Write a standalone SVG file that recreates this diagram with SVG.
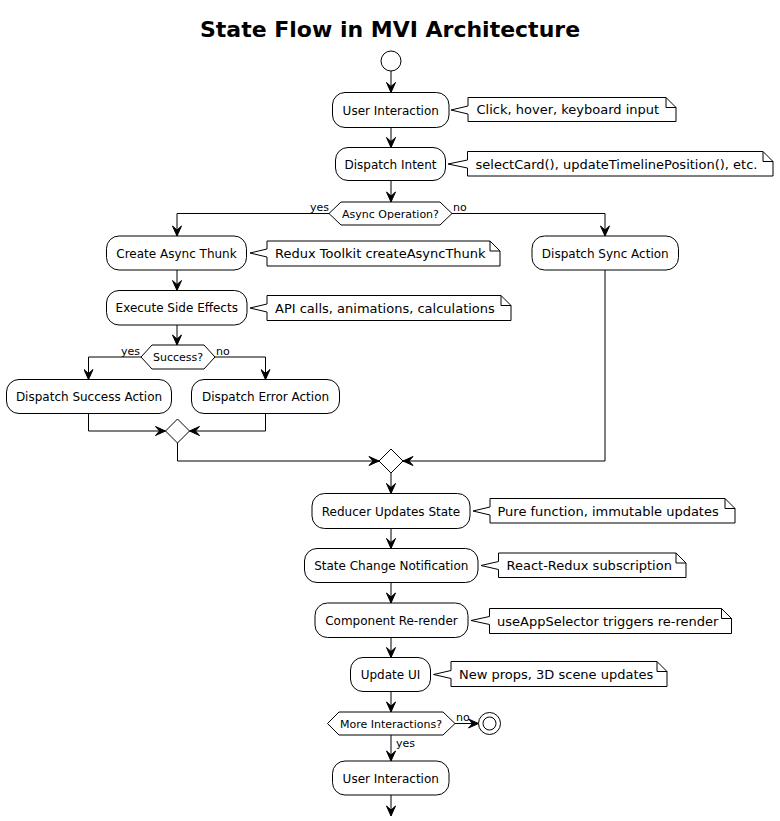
<svg xmlns="http://www.w3.org/2000/svg" width="780" height="821" viewBox="0 0 780 821">
<defs>
<marker id="arr" viewBox="-11 -5 12 10" refX="0" refY="0" markerWidth="12" markerHeight="10" markerUnits="userSpaceOnUse" orient="auto">
<path d="M0,0 L-10,-4.5 L-6,0 L-10,4.5 Z" fill="#000" stroke="#000" stroke-width="1"/>
</marker>
<style>
.bg{fill:#fff}
.act{fill:#fff;stroke:#000;stroke-width:1}
.note{fill:#fff;stroke:#000;stroke-width:1}
.ln{fill:none;stroke:#000;stroke-width:1}
.arrow{fill:none;stroke:#000;stroke-width:1;marker-end:url(#arr)}
.t{font-family:"DejaVu Sans",Verdana,sans-serif;font-size:12px;fill:#000;text-anchor:middle}
.nt{font-family:"DejaVu Sans",Verdana,sans-serif;font-size:13px;fill:#000;text-anchor:start}
.dt{font-family:"DejaVu Sans",Verdana,sans-serif;font-size:11px;fill:#000;text-anchor:middle}
.lb{font-family:"DejaVu Sans",Verdana,sans-serif;font-size:11px;fill:#000}
.title{font-family:"DejaVu Sans",Verdana,sans-serif;font-size:22px;font-weight:bold;fill:#000;text-anchor:middle}
</style>
</defs>
<rect class="bg" x="0" y="0" width="780" height="821"/>
<text class="title" x="390" y="37">State Flow in MVI Architecture</text>

<g id="connectors">
<line class="arrow" x1="391" y1="71" x2="391" y2="92.5"/>
<line class="arrow" x1="391" y1="127.5" x2="391" y2="147.5"/>
<line class="arrow" x1="391" y1="180.5" x2="391" y2="202"/>
<polyline class="arrow" points="329,213.5 177,213.5 177,236"/>
<polyline class="arrow" points="452,213.5 605,213.5 605,236"/>
<line class="arrow" x1="177" y1="270" x2="177" y2="290.5"/>
<line class="arrow" x1="177" y1="325" x2="177" y2="345"/>
<polyline class="arrow" points="141,357 88.5,357 88.5,379.5"/>
<polyline class="arrow" points="215,357 265.5,357 265.5,379.5"/>
<polyline class="arrow" points="88.5,413.5 88.5,431 165.5,431"/>
<polyline class="arrow" points="265.5,413.5 265.5,431 189.5,431"/>
<polyline class="arrow" points="177.5,443 177.5,461 379,461"/>
<polyline class="arrow" points="605,270 605,461 403,461"/>
<line class="arrow" x1="391" y1="473" x2="391" y2="493.5"/>
<line class="arrow" x1="391" y1="528.5" x2="391" y2="548.5"/>
<line class="arrow" x1="391" y1="582.5" x2="391" y2="603"/>
<line class="arrow" x1="391" y1="637.5" x2="391" y2="657.5"/>
<line class="arrow" x1="391" y1="691.5" x2="391" y2="712"/>
<line class="arrow" x1="455" y1="723.5" x2="478.5" y2="723.5"/>
<line class="arrow" x1="391" y1="735" x2="391" y2="761"/>
<line class="arrow" x1="391" y1="795" x2="391" y2="816"/>
<text class="lb" x="329" y="211" text-anchor="end">yes</text>
<text class="lb" x="453" y="211">no</text>
<text class="lb" x="140" y="355" text-anchor="end">yes</text>
<text class="lb" x="216" y="355">no</text>
<text class="lb" x="456" y="721">no</text>
<text class="lb" x="396" y="747">yes</text>
</g>

<g id="start"><circle class="act" cx="391" cy="61" r="10"/></g>

<g id="user-interaction">
<rect class="act" x="332.5" y="92.5" width="116.5" height="35" rx="12.5"/>
<text class="t" x="390.75" y="114.5">User Interaction</text>
</g>
<g id="note-user-interaction">
<path class="note" d="M468,97.5 L468,106 L451,110 L468,114 L468,121.5 L676,121.5 L676,107.5 L666,97.5 Z"/>
<path class="ln" d="M666,97.5 L666,107.5 L676,107.5"/>
<text class="nt" x="476.5" y="114">Click, hover, keyboard input</text>
</g>

<g id="dispatch-intent">
<rect class="act" x="335.5" y="147.5" width="110" height="33" rx="12.5"/>
<text class="t" x="390.5" y="168.5">Dispatch Intent</text>
</g>
<g id="note-dispatch-intent">
<path class="note" d="M467.5,151.5 L467.5,160 L448,164 L467.5,168 L467.5,176 L773,176 L773,161.5 L763,151.5 Z"/>
<path class="ln" d="M763,151.5 L763,161.5 L773,161.5"/>
<text class="nt" x="475.5" y="168.5">selectCard(), updateTimelinePosition(), etc.</text>
</g>

<g id="async-decision">
<polygon class="act" points="329,213.5 341,202 440,202 452,213.5 440,225 341,225"/>
<text class="dt" x="390.5" y="217.5">Async Operation?</text>
</g>

<g id="create-async-thunk">
<rect class="act" x="106.5" y="236" width="140" height="34" rx="12.5"/>
<text class="t" x="176.5" y="257.5">Create Async Thunk</text>
</g>
<g id="note-create-async-thunk">
<path class="note" d="M267,241 L267,249 L250,253 L267,257 L267,266 L500,266 L500,251 L490,241 Z"/>
<path class="ln" d="M490,241 L490,251 L500,251"/>
<text class="nt" x="275" y="258">Redux Toolkit createAsyncThunk</text>
</g>

<g id="execute-side-effects">
<rect class="act" x="106.5" y="290.5" width="140.5" height="34.5" rx="12.5"/>
<text class="t" x="176.75" y="312">Execute Side Effects</text>
</g>
<g id="note-execute-side-effects">
<path class="note" d="M267,295.5 L267,304 L250,308 L267,312 L267,320.5 L511,320.5 L511,305.5 L501,295.5 Z"/>
<path class="ln" d="M501,295.5 L501,305.5 L511,305.5"/>
<text class="nt" x="275" y="312.5">API calls, animations, calculations</text>
</g>

<g id="success-decision">
<polygon class="act" points="141,357 152,345 204,345 215,357 204,369 152,369"/>
<text class="dt" x="178" y="361">Success?</text>
</g>

<g id="dispatch-success-action">
<rect class="act" x="6.5" y="379.5" width="165" height="34" rx="12.5"/>
<text class="t" x="89" y="401">Dispatch Success Action</text>
</g>

<g id="dispatch-error-action">
<rect class="act" x="191.5" y="379.5" width="148" height="34" rx="12.5"/>
<text class="t" x="265.5" y="401">Dispatch Error Action</text>
</g>

<g id="merge-1"><polygon class="act" points="177.5,419 189.5,431 177.5,443 165.5,431"/></g>

<g id="dispatch-sync-action">
<rect class="act" x="532" y="236" width="146.5" height="34" rx="12.5"/>
<text class="t" x="605.25" y="257.5">Dispatch Sync Action</text>
</g>

<g id="merge-2"><polygon class="act" points="391,449 403,461 391,473 379,461"/></g>

<g id="reducer-updates-state">
<rect class="act" x="312" y="493.5" width="158" height="35" rx="12.5"/>
<text class="t" x="391" y="515.5">Reducer Updates State</text>
</g>
<g id="note-reducer">
<path class="note" d="M490,498.5 L490,507 L473,511 L490,515 L490,523 L735,523 L735,508.5 L725,498.5 Z"/>
<path class="ln" d="M725,498.5 L725,508.5 L735,508.5"/>
<text class="nt" x="497.5" y="515.5">Pure function, immutable updates</text>
</g>

<g id="state-change-notification">
<rect class="act" x="304.5" y="548.5" width="173.5" height="34" rx="12.5"/>
<text class="t" x="391.25" y="570">State Change Notification</text>
</g>
<g id="note-state-change">
<path class="note" d="M498.5,553 L498.5,561.5 L481,565.5 L498.5,569.5 L498.5,577.5 L686,577.5 L686,563 L676,553 Z"/>
<path class="ln" d="M676,553 L676,563 L686,563"/>
<text class="nt" x="506.5" y="570">React-Redux subscription</text>
</g>

<g id="component-re-render">
<rect class="act" x="315" y="603" width="153" height="34.5" rx="12.5"/>
<text class="t" x="391.5" y="624.5">Component Re-render</text>
</g>
<g id="note-component">
<path class="note" d="M489.5,608.5 L489.5,616.5 L471,620.5 L489.5,624.5 L489.5,633.5 L731.5,633.5 L731.5,618.5 L721.5,608.5 Z"/>
<path class="ln" d="M721.5,608.5 L721.5,618.5 L731.5,618.5"/>
<text class="nt" x="497" y="625.5">useAppSelector triggers re-render</text>
</g>

<g id="update-ui">
<rect class="act" x="350.5" y="657.5" width="80" height="34" rx="12.5"/>
<text class="t" x="390.5" y="679">Update UI</text>
</g>
<g id="note-update-ui">
<path class="note" d="M451,661.5 L451,670.5 L433.5,674.5 L451,678.5 L451,686.5 L667,686.5 L667,671.5 L657,661.5 Z"/>
<path class="ln" d="M657,661.5 L657,671.5 L667,671.5"/>
<text class="nt" x="459" y="679">New props, 3D scene updates</text>
</g>

<g id="more-decision">
<polygon class="act" points="327.5,723.5 339,712 443,712 455,723.5 443,735 339,735"/>
<text class="dt" x="391" y="727.5">More Interactions?</text>
</g>

<g id="end">
<circle class="act" cx="489.5" cy="723.5" r="11"/>
<circle class="act" cx="489.5" cy="723.5" r="6.5"/>
</g>

<g id="user-interaction-2">
<rect class="act" x="332.5" y="761" width="116.5" height="34" rx="12.5"/>
<text class="t" x="390.75" y="782.5">User Interaction</text>
</g>
</svg>
